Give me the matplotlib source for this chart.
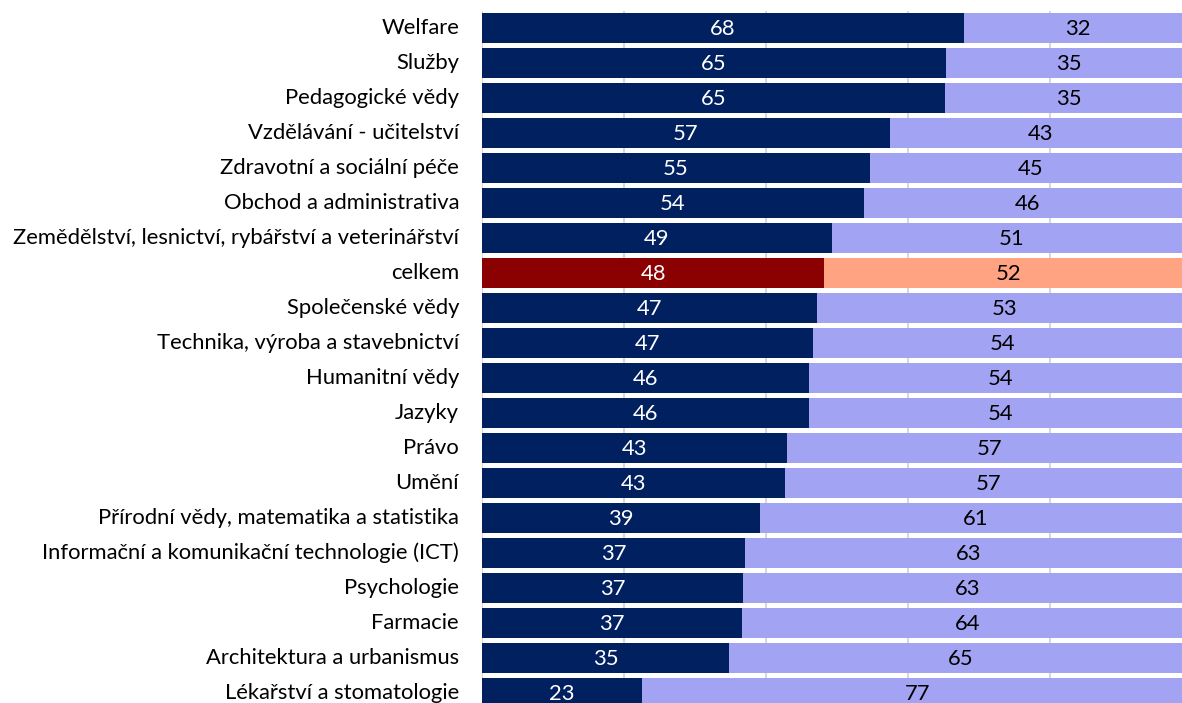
import matplotlib
matplotlib.use("Agg")
import matplotlib.pyplot as plt
import matplotlib.transforms as mtransforms
import numpy as np

categories = [
    "Welfare", "Služby", "Pedagogické vědy", "Vzdělávání - učitelství",
    "Zdravotní a sociální péče", "Obchod a administrativa",
    "Zemědělství, lesnictví, rybářství a veterinářství", "celkem",
    "Společenské vědy", "Technika, výroba a stavebnictví", "Humanitní vědy",
    "Jazyky", "Právo", "Umění", "Přírodní vědy, matematika a statistika",
    "Informační a komunikační technologie (ICT)", "Psychologie", "Farmacie",
    "Architektura a urbanismus", "Lékařství a stomatologie",
]
share_a = [67.9, 65.3, 65.2, 57.4, 54.6, 53.8, 49.3, 48.2, 47.2, 46.6, 46.1,
           46.0, 42.9, 42.7, 39.1, 37.0, 36.8, 36.6, 34.8, 22.6]
share_b = [32.1, 34.7, 34.8, 42.6, 45.4, 46.2, 50.7, 51.8, 52.8, 53.5, 53.9,
           54.0, 57.1, 57.3, 60.9, 63.0, 63.2, 63.5, 65.2, 77.4]

plt.rcParams['font.family'] = ['Lato', 'DejaVu Sans']

W, H = 1182, 703
fig = plt.figure(figsize=(W / 100, H / 100), dpi=100)
left_px, right_px = 482, 1192
top_px, bottom_px = 10.5, 710.5
ax = fig.add_axes([left_px / W, (H - bottom_px) / H,
                   (right_px - left_px) / W, (bottom_px - top_px) / H])

dark_col = ["#8B0000" if c == "celkem" else "#002060" for c in categories]
light_col = ["#FFA382" if c == "celkem" else "#A3A3F3" for c in categories]

y = np.arange(len(categories))
a = np.array(share_a)
b = np.array(share_b)
ax.barh(y, a, height=0.83, color=dark_col, zorder=2)
ax.barh(y, b, left=a, height=0.83, color=light_col, zorder=2)

fs = 15.8
for yi, av, bv in zip(y, a, b):
    ax.text(av / 2, yi + 0.03, f"{av:.0f}", ha="center", va="center",
            color="white", fontsize=fs, zorder=3)
    ax.text(av + bv / 2, yi + 0.03, f"{bv:.0f}", ha="center", va="center",
            color="black", fontsize=fs, zorder=3)

ax.set_xlim(0, 100)
ax.set_ylim(len(categories) - 0.5, -0.5)
ax.set_xticks([0, 20, 40, 60, 80, 100])
ax.xaxis.grid(True, color="#d9d9d9", linewidth=1.5, zorder=0)
ax.set_axisbelow(True)
ax.tick_params(axis="x", bottom=False, labelbottom=False)
ax.set_yticks(y)
ax.set_yticklabels(categories, fontsize=fs)
ax.tick_params(axis="y", length=0, pad=16.5)
shift = mtransforms.ScaledTranslation(0, 2 / 100, fig.dpi_scale_trans)
for lab in ax.get_yticklabels():
    lab.set_transform(lab.get_transform() + shift)
for s in ax.spines.values():
    s.set_visible(False)

fig.savefig("out.png", dpi=100)
